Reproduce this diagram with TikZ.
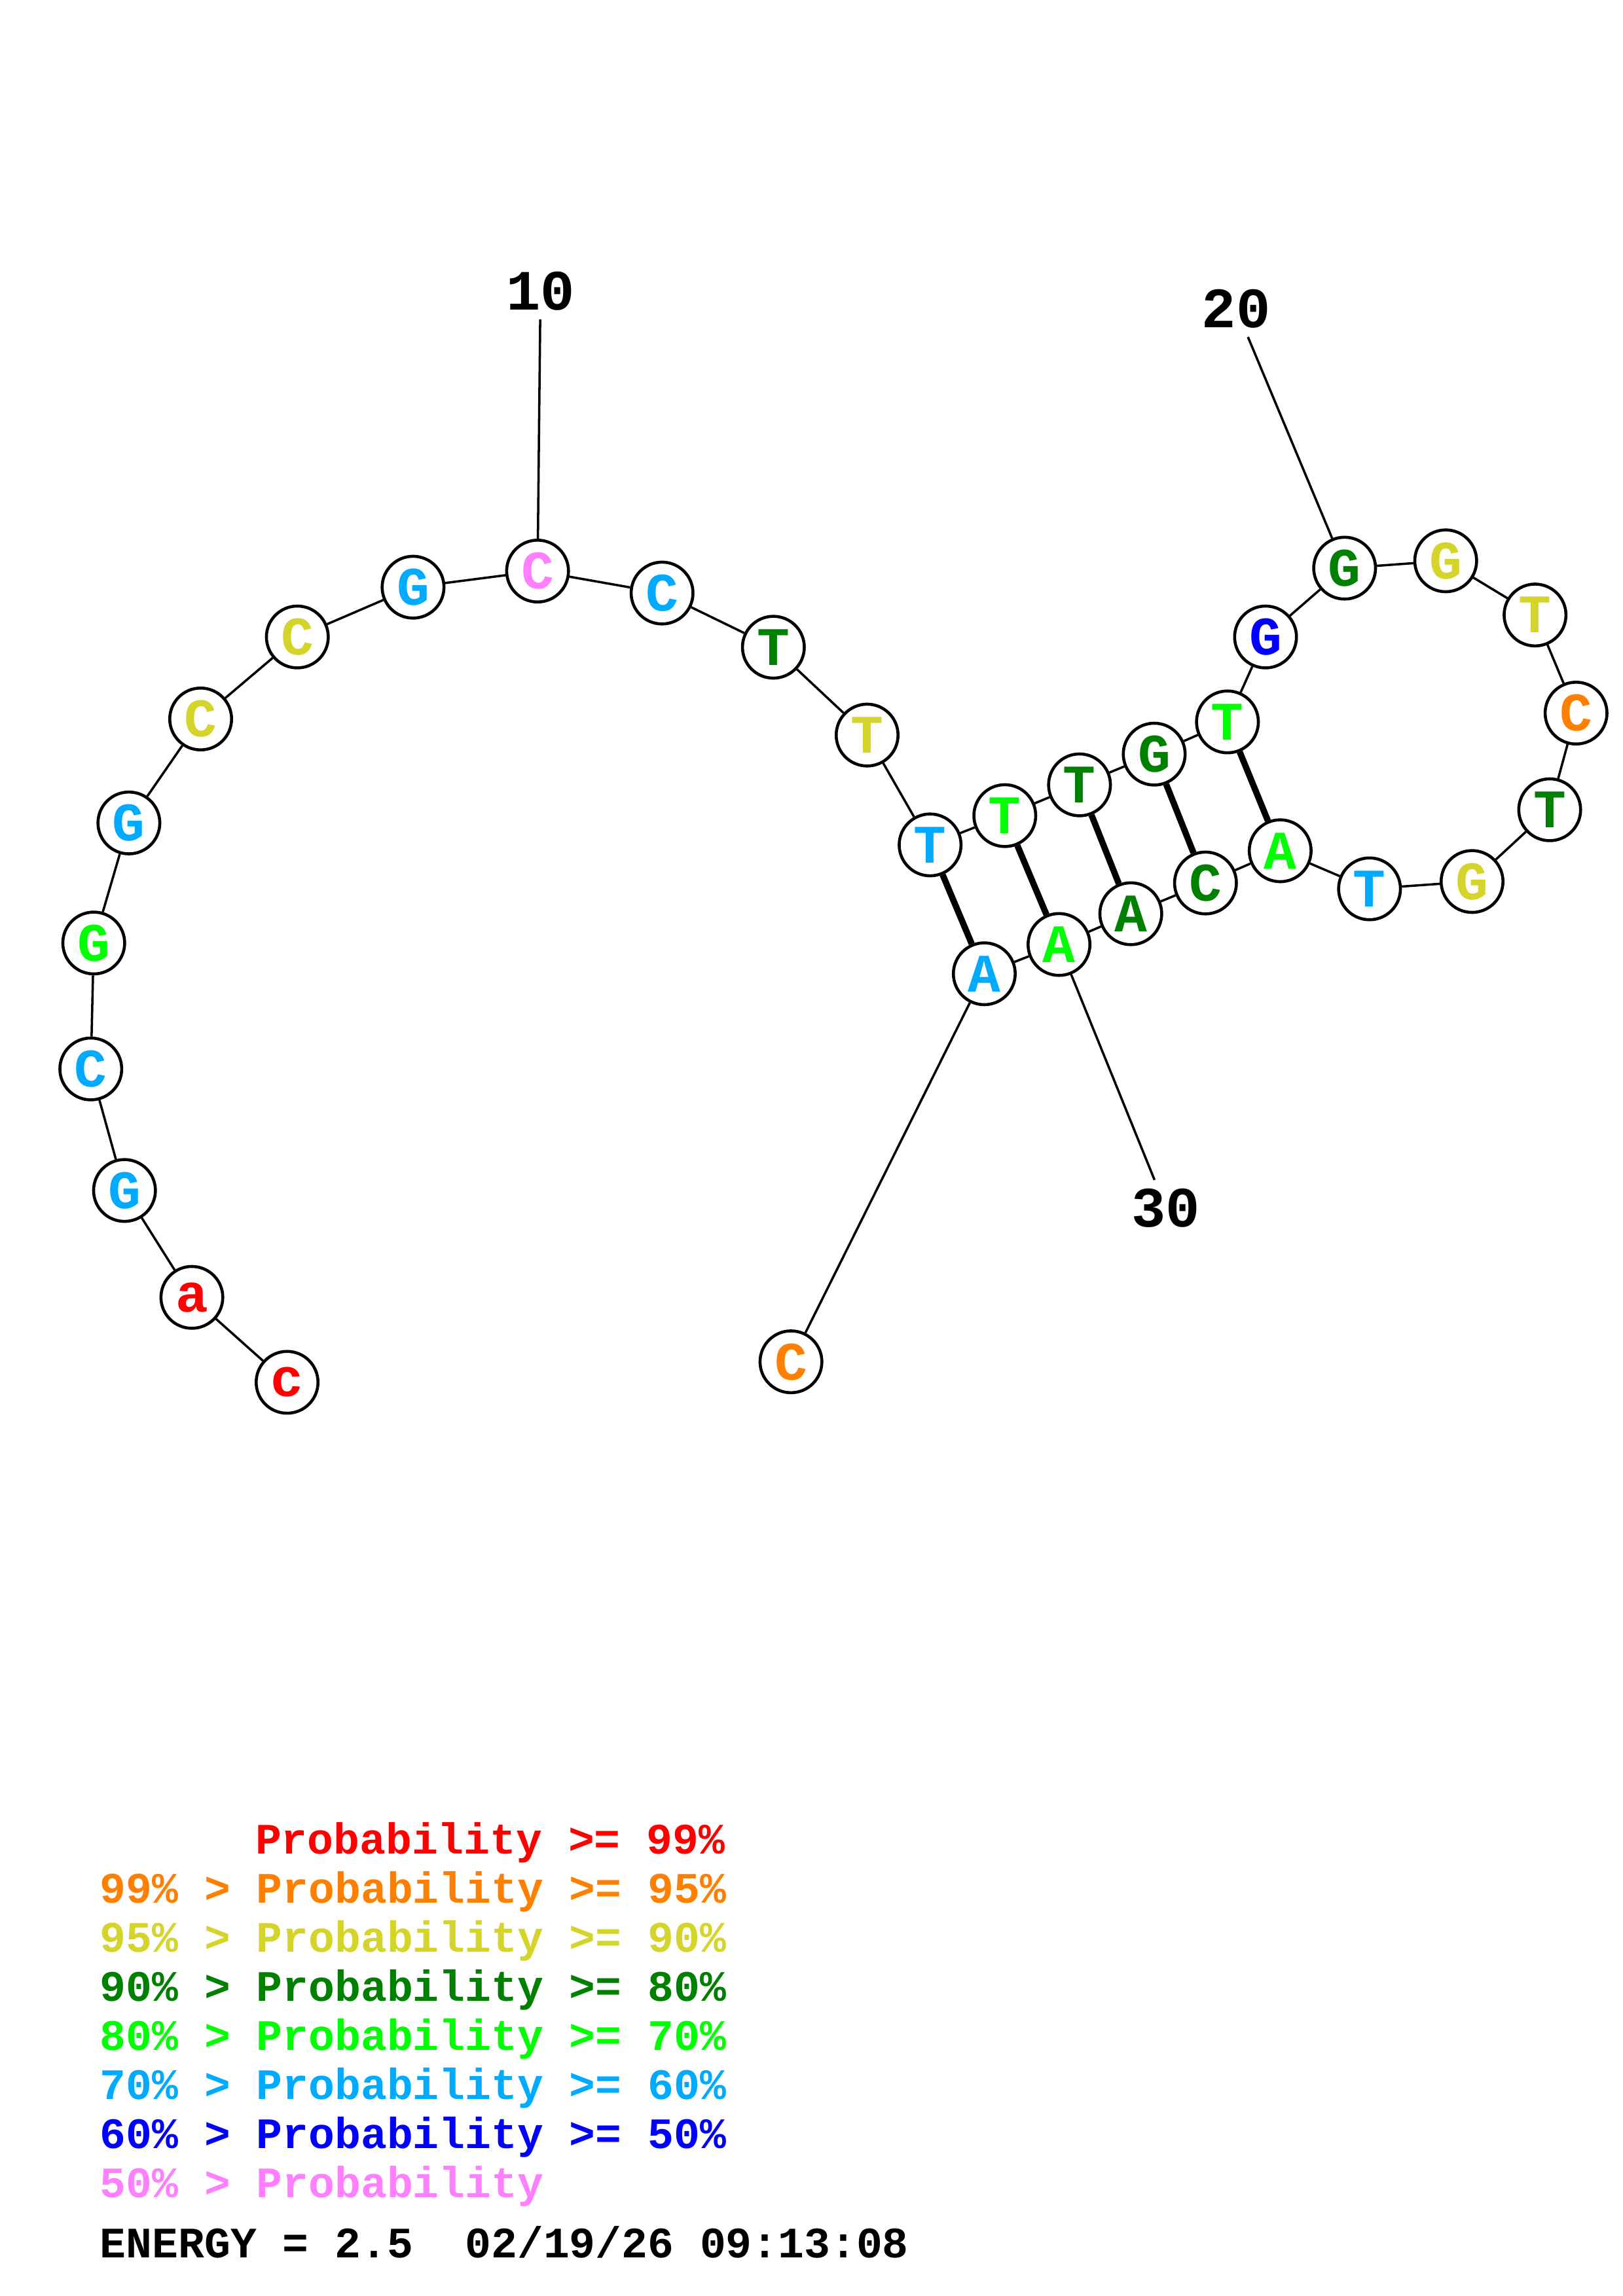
\documentclass[tikz,border=0pt]{standalone}
\usepackage{fontspec}
\setmonofont{Liberation Mono}
\usepackage{tikz}
\definecolor{pr99}{RGB}{255,0,0}
\definecolor{pr95}{RGB}{255,128,0}
\definecolor{pr90}{RGB}{212,212,42}
\definecolor{pr80}{RGB}{0,128,0}
\definecolor{pr70}{RGB}{0,255,0}
\definecolor{pr60}{RGB}{0,170,255}
\definecolor{pr50}{RGB}{0,0,255}
\definecolor{prlow}{RGB}{255,128,255}
\tikzstyle{base} = [circle, draw=black, line width=1.1pt, fill=white, minimum size=0.8cm, inner sep=0pt, font=\ttfamily\bfseries\fontsize{20}{20}\selectfont]
\tikzstyle{bond} = [line width=0.85pt]
\tikzstyle{pair} = [line width=2.3pt]
\tikzstyle{tick} = [inner sep=3pt, font=\ttfamily\bfseries\fontsize{21}{21}\selectfont]
\tikzstyle{legend} = [anchor=base west, inner sep=0pt, font=\ttfamily\bfseries\fontsize{16}{16}\selectfont]

\begin{document}
\begin{tikzpicture}[x=0.018953cm, y=-0.018953cm]
      \useasboundingbox (0,0) rectangle (1108,1568);
      % 5' tail
      \node (n1)[base, text=pr99] at (196,944) {c};
      \node (n2)[base, text=pr99] at (131,886) {a};
      \node (n3)[base, text=pr60] at (85,813) {G};
      \node (n4)[base, text=pr60] at (62,730) {C};
      \node (n5)[base, text=pr70] at (64,644) {G};
      \node (n6)[base, text=pr60] at (88,562) {G};
      \node (n7)[base, text=pr90] at (137,491) {C};
      \node (n8)[base, text=pr90] at (203,435) {C};
      \node (n9)[base, text=pr60] at (282,401) {G};
      \node (n10)[base, text=prlow] at (367,390) {C};
      \node (n11)[base, text=pr60] at (452,405) {C};
      \node (n12)[base, text=pr80] at (528,442) {T};
      \node (n13)[base, text=pr90] at (592,502) {T};
      % stem, 5' side
      \node (n14)[base, text=pr60] at (635,577) {T};
      \node (n15)[base, text=pr70] at (686,557) {T};
      \node (n16)[base, text=pr80] at (737,536) {T};
      \node (n17)[base, text=pr80] at (788,515) {G};
      \node (n18)[base, text=pr70] at (838,493) {T};
      % loop
      \node (n19)[base, text=pr50] at (864,435) {G};
      \node (n20)[base, text=pr80] at (918,388) {G};
      \node (n21)[base, text=pr90] at (987,383) {G};
      \node (n22)[base, text=pr90] at (1048,420) {T};
      \node (n23)[base, text=pr95] at (1076,487) {C};
      \node (n24)[base, text=pr80] at (1058,553) {T};
      \node (n25)[base, text=pr90] at (1005,602) {G};
      \node (n26)[base, text=pr60] at (935,607) {T};
      % stem, 3' side
      \node (n27)[base, text=pr70] at (874,581) {A};
      \node (n28)[base, text=pr80] at (823,603) {C};
      \node (n29)[base, text=pr80] at (772,624) {A};
      \node (n30)[base, text=pr70] at (723,645) {A};
      \node (n31)[base, text=pr60] at (672,665) {A};
      \node (n32)[base, text=pr95] at (540,930) {C};
      % backbone
      \draw[bond] (n1)--(n2)--(n3)--(n4)--(n5)--(n6)--(n7)--(n8)--(n9)--(n10)--(n11)
            --(n12)--(n13)--(n14)--(n15)--(n16)--(n17)--(n18)--(n19)--(n20)--(n21)
            --(n22)--(n23)--(n24)--(n25)--(n26)--(n27)--(n28)--(n29)--(n30)--(n31)--(n32);
      % base pairs
      \draw[pair] (n14)--(n31);
      \draw[pair] (n15)--(n30);
      \draw[pair] (n16)--(n29);
      \draw[pair] (n17)--(n28);
      \draw[pair] (n18)--(n27);
      % numbering
      \node (l10)[tick] at (369,199) {10};
      \node (l20)[tick] at (844,211) {20};
      \node (l30)[tick] at (796,825) {30};
      \draw[bond] (n10)--(l10);
      \draw[bond] (n20)--(l20);
      \draw[bond] (n30)--(l30);
      % legend
      \node (p99)[legend, text=pr99] at (174,1266) {Probability >= 99\%};
      \node (p95)[legend, text=pr95] at (68,1299.5) {99\% > Probability >= 95\%};
      \node (p90)[legend, text=pr90] at (68,1333) {95\% > Probability >= 90\%};
      \node (p80)[legend, text=pr80] at (68,1366.5) {90\% > Probability >= 80\%};
      \node (p70)[legend, text=pr70] at (68,1400) {80\% > Probability >= 70\%};
      \node (p60)[legend, text=pr60] at (68,1433.5) {70\% > Probability >= 60\%};
      \node (p50)[legend, text=pr50] at (68,1467) {60\% > Probability >= 50\%};
      \node (plow)[legend, text=prlow] at (68,1500.5) {50\% > Probability};
      \node (energy)[legend] at (68,1542) {ENERGY = 2.5\ \ 02/19/26 09:13:08};
\end{tikzpicture}
\end{document}
